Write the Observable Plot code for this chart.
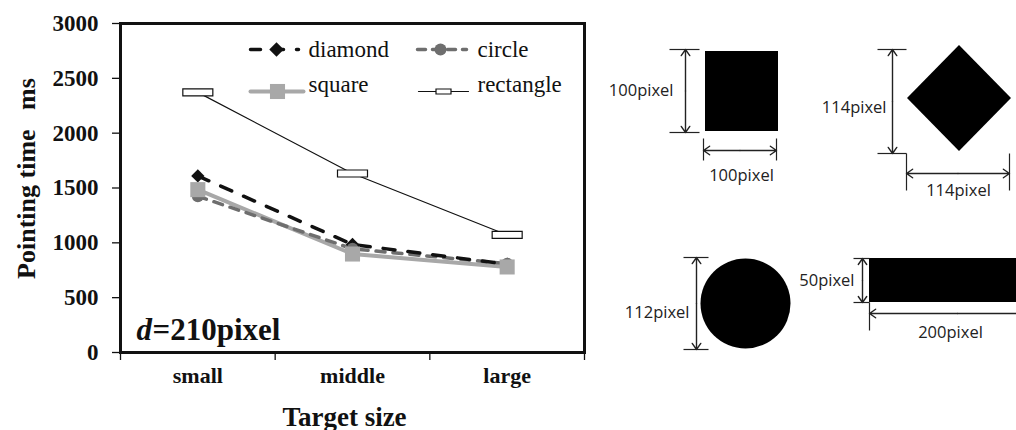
<!DOCTYPE html>
<html><head><meta charset="utf-8">
<script src="https://cdn.jsdelivr.net/npm/d3@7"></script>
<script src="https://cdn.jsdelivr.net/npm/@observablehq/plot@0.6"></script>
<style>
body{margin:0;background:#fff}
#wrap{position:relative;width:1016px;height:430px;overflow:hidden;background:#fff}
#left{position:absolute;left:0;top:0}
#right{position:absolute;left:600px;top:0}
svg text{white-space:pre}
</style>
</head><body><div id="wrap"><div id="left"></div><div id="right"></div></div>
<script>
// ---------- data ----------
const categories = ["small", "middle", "large"];
const seriesNames = ["diamond", "circle", "square", "rectangle"];
const diamondVals = [1610, 985, 805];
const circleVals = [1425, 945, 810];
const squareVals = [1485, 898, 780];
const rectangleVals = [2372, 1632, 1072];
const yTicks = [0, 500, 1000, 1500, 2000, 2500, 3000];
const yLabel = "Pointing time   ms";
const xLabel = "Target size";
const annotationVar = "d";
const annotationRest = "=210pixel";

// shape diagram data (dimensions in pixels)
const shapeNames = ["square", "diamond", "circle", "rectangle"];
const squareDims = [100, 100];
const diamondDims = [114, 114];
const circleDims = [112];
const rectangleDims = [50, 200];

// ---------- left chart ----------
const valuesBySeries = {diamond: diamondVals, circle: circleVals, square: squareVals, rectangle: rectangleVals};
const rows = [];
seriesNames.forEach(s => categories.forEach((c, i) => rows.push({series: s, cat: c, xi: i + 0.5, v: valuesBySeries[s][i]})));

const rectSym = {draw(ctx) { ctx.rect(-15, -3.5, 30, 7); }};
const rectSymSmall = {draw(ctx) { ctx.rect(-7.5, -2.5, 15, 5); }};
const st = {
  diamond:   {stroke: "#111", sw: 3.5, dash: "12,13", symbol: "diamond2", r: 6, fill: "#111"},
  circle:    {stroke: "#6e6e6e", sw: 3.5, dash: "9,8", symbol: "circle", r: 6, fill: "#6e6e6e"},
  square:    {stroke: "#a8a8a8", sw: 4, dash: null, symbol: "square", r: 8.5, fill: "#a8a8a8"},
  rectangle: {stroke: "#111", sw: 1.2, dash: null, symbol: rectSym, r: 5, fill: "#fff"}
};

const W = 600, H = 430, FX0 = 120, FX1 = 584, FY0 = 352, FY1 = 23;
const pxX = px => (px - FX0) / (FX1 - FX0) * 3;
const pxY = py => (FY0 - py) / (FY0 - FY1) * 3000;
const serif = "Liberation Serif, Times New Roman, DejaVu Serif, serif";

const lineMarks = ["square", "circle", "diamond", "rectangle"].map(s =>
  Plot.line(rows.filter(d => d.series === s), {x: "xi", y: "v", stroke: st[s].stroke, strokeWidth: st[s].sw, strokeDasharray: st[s].dash})
);
const dotMarks = ["rectangle", "diamond", "circle", "square"].map(s =>
  Plot.dot(rows.filter(d => d.series === s), {x: "xi", y: "v", symbol: st[s].symbol, r: st[s].r, fill: st[s].fill,
    stroke: s === "rectangle" ? "#111" : "none", strokeWidth: 1.2})
);

// legend (layout in px inside the frame)
const legendLayout = {
  diamond:   {x1: 250, x2: 298, xm: 276, xt: 308, y: 49, yt: 49, dash: "10,13"},
  circle:    {x1: 417, x2: 466, xm: 440, xt: 477, y: 49, yt: 49, dash: "8,7"},
  square:    {x1: 250, x2: 303, xm: 277, xt: 308, y: 91, yt: 84, dash: null},
  rectangle: {x1: 418, x2: 468, xm: 443, xt: 477, y: 91, yt: 84, dash: null}
};
const legendMarks = [];
seriesNames.forEach(s => {
  const L = legendLayout[s];
  legendMarks.push(Plot.line([[pxX(L.x1), pxY(L.y)], [pxX(L.x2), pxY(L.y)]], {stroke: st[s].stroke, strokeWidth: st[s].sw, strokeDasharray: L.dash}));
  legendMarks.push(Plot.dot([[pxX(L.xm), pxY(L.y)]], {symbol: s === "rectangle" ? rectSymSmall : st[s].symbol, r: s === "diamond" ? 6.5 : st[s].r, fill: st[s].fill,
    stroke: s === "rectangle" ? "#111" : "none", strokeWidth: 1.2}));
  legendMarks.push(Plot.text([s], {x: pxX(L.xt), y: pxY(L.yt), text: d => d, textAnchor: "start", fontSize: 23, fontFamily: serif, fontWeight: "normal", fill: "#111"}));
});

const left = Plot.plot({
  width: W, height: H,
  marginLeft: FX0, marginRight: W - FX1, marginTop: FY1, marginBottom: H - FY0,
  style: {fontFamily: serif, background: "transparent", overflow: "visible", color: "#111"},
  x: {type: "linear", domain: [0, 3]},
  y: {domain: [0, 3000]},
  marks: [
    Plot.axisY({ticks: yTicks, tickFormat: d => String(d), tickSize: 8, tickPadding: 14, fontSize: 23, fontWeight: "bold", fontFamily: serif, label: null, stroke: "#111", strokeWidth: 1.3}),
    Plot.axisX({ticks: [0, 1, 2, 3], tickSize: 8, tickFormat: () => "", label: null, strokeWidth: 1.3}),
    Plot.axisX({ticks: [0.5, 1.5, 2.5], tickSize: 0, tickPadding: 15, tickFormat: d => categories[Math.floor(d)], fontSize: 22, fontWeight: "bold", fontFamily: serif, label: null}),
    ...lineMarks,
    ...dotMarks,
    ...legendMarks,
    Plot.text([annotationVar], {x: pxX(136), y: pxY(339), text: d => d, textAnchor: "start", lineAnchor: "bottom", fontSize: 31, fontWeight: "bold", fontStyle: "italic", fontFamily: serif, fill: "#111"}),
    Plot.text([annotationRest], {x: pxX(152), y: pxY(339), text: d => d, textAnchor: "start", lineAnchor: "bottom", fontSize: 31, fontWeight: "bold", fontFamily: serif, fill: "#111"}),
    Plot.text([yLabel], {x: pxX(26), y: pxY(178), text: d => d, rotate: -90, fontSize: 26, fontWeight: "bold", fontFamily: serif, fill: "#111"}),
    Plot.text([xLabel], {x: pxX(344), y: pxY(425), text: d => d, lineAnchor: "bottom", fontSize: 27, fontWeight: "bold", fontFamily: serif, fill: "#111"}),
    Plot.frame({stroke: "#111", strokeWidth: 3})
  ]
});
document.getElementById("left").appendChild(left);

// ---------- right diagrams ----------
const sans = "Open Sans";
const ink = "#222";
// layout in page px
const sq = {x1: 705, x2: 778, y1: 51, y2: 131};
const dm = {cx: 959, cy: 98, hw: 52, hh: 53};
const ci = {cx: 745, cy: 303, r: 45};
const re = {x1: 869, x2: 1045, y1: 258, y2: 302};

const arrows = [ // double-headed: [x1,y1,x2,y2]
  [685, 49, 685, 132], [703, 150, 776, 150],
  [892, 49, 892, 153], [906, 173, 1009, 173],
  [696, 257, 696, 349],
  [862, 258, 862, 302], [869, 313, 1045, 313]
];
const arrowHalves = [];
arrows.forEach(([a, b, c, d]) => {
  const mx = (a + c) / 2, my = (b + d) / 2;
  arrowHalves.push({x1: mx, y1: my, x2: a, y2: b}, {x1: mx, y1: my, x2: c, y2: d});
});
const ext = [
  [669, 49, 699, 49], [669, 132, 699, 132], [703, 138, 703, 160], [776, 138, 776, 160],
  [877, 49, 906, 49], [877, 153, 906, 153], [906, 153, 906, 190], [1009, 153, 1009, 190],
  [683, 257, 708, 257], [683, 349, 708, 349],
  [853, 258, 869, 258], [853, 302, 869, 302], [869, 302, 869, 330]
];
const lab = v => `${v}pixel`;
const labelsEnd = [
  {x: 673, y: 90, t: lab(squareDims[0])},
  {x: 886, y: 107, t: lab(diamondDims[0])},
  {x: 689, y: 312, t: lab(circleDims[0])},
  {x: 854, y: 280, t: lab(rectangleDims[0])}
];
const labelsMid = [
  {x: 741, y: 175, t: lab(squareDims[1])},
  {x: 958, y: 190, t: lab(diamondDims[1])},
  {x: 950, y: 332, t: lab(rectangleDims[1])}
];

const right = Plot.plot({
  width: 416, height: 430, margin: 0,
  style: {fontFamily: sans, background: "transparent", overflow: "hidden"},
  x: {domain: [600, 1016], axis: null},
  y: {domain: [0, 430], range: [0, 430], axis: null},
  marks: [
    Plot.rect([sq], {x1: "x1", x2: "x2", y1: "y1", y2: "y2", fill: "#000"}),
    Plot.area([
      {x: dm.cx - dm.hw, a: dm.cy, b: dm.cy},
      {x: dm.cx, a: dm.cy - dm.hh, b: dm.cy + dm.hh},
      {x: dm.cx + dm.hw, a: dm.cy, b: dm.cy}
    ], {x1: "x", y1: "a", y2: "b", fill: "#000"}),
    Plot.dot([ci], {x: "cx", y: "cy", r: ci.r, fill: "#000"}),
    Plot.rect([re], {x1: "x1", x2: "x2", y1: "y1", y2: "y2", fill: "#000"}),
    Plot.link(ext, {x1: d => d[0], y1: d => d[1], x2: d => d[2], y2: d => d[3], stroke: ink, strokeWidth: 1.2}),
    Plot.arrow(arrowHalves, {x1: "x1", y1: "y1", x2: "x2", y2: "y2", stroke: ink, strokeWidth: 1.4, headLength: 8, headAngle: 70}),
    Plot.text(labelsEnd, {x: "x", y: "y", text: "t", textAnchor: "end", fontSize: 16.5, fontFamily: sans, fill: ink}),
    Plot.text(labelsMid, {x: "x", y: "y", text: "t", textAnchor: "middle", fontSize: 16.5, fontFamily: sans, fill: ink})
  ]
});
document.getElementById("right").appendChild(right);
</script>
</body></html>
